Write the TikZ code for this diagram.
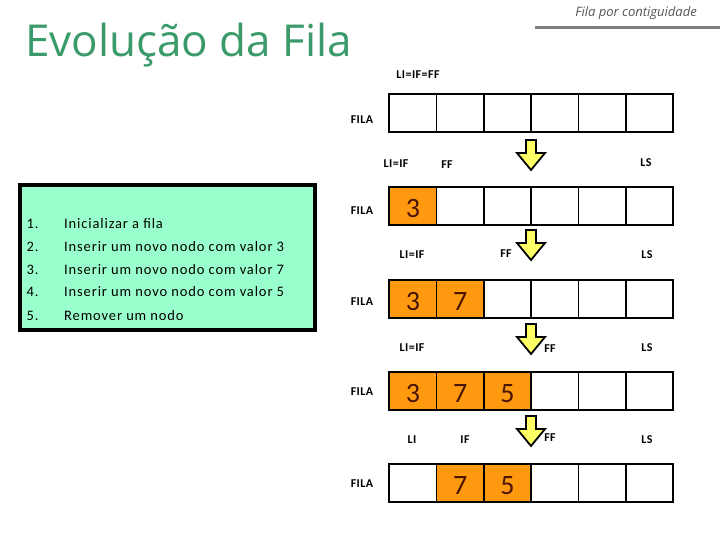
\documentclass[tikz,border=0pt]{standalone}
\usepackage{fontspec}
\setmainfont{Carlito}
\newfontfamily\titlefont{Open Sans}
\newfontfamily\listfont[LetterSpace=6]{Carlito}
\newfontfamily\labfont[LetterSpace=4]{Carlito}
\definecolor{titlegreen}{HTML}{3A9A6A}
\definecolor{subgray}{HTML}{555555}
\definecolor{rulegray}{HTML}{808080}
\definecolor{cellorange}{HTML}{FF9A10}
\definecolor{digitcol}{HTML}{4A1405}
\definecolor{boxmint}{HTML}{99FFCC}
\definecolor{arrowyellow}{HTML}{FFFF66}
\tikzset{
  cell/.style={draw=black, line width=1.8pt, minimum width=47.33pt, minimum height=38pt,
    inner sep=0pt, anchor=north west, fill=white},
  full/.style={cell, fill=cellorange, text=digitcol, font=\fontsize{28}{30}\selectfont, text height=24pt},
  lab/.style={font=\labfont\bfseries\fontsize{12}{14}\selectfont, inner sep=0pt},
  listtxt/.style={font=\listfont\fontsize{14.5}{16}\selectfont, anchor=base west, inner sep=0pt},
  downarr/.pic={\draw[line width=1.8pt, fill=arrowyellow, line join=miter]
    (-5,0) -- (5,0) -- (5,13) -- (14,13) -- (0,30) -- (-14,13) -- (-5,13) -- cycle;}
}
\begin{document}
\begin{tikzpicture}[x=1pt,y=-1pt]
\useasboundingbox (0,0) rectangle (720,540);
% title and header
\node[font=\titlefont\fontsize{44}{50}\selectfont, text=titlegreen, anchor=base west, inner sep=0pt] (title) at (25,57) {Evolução da Fila};
\node[font=\titlefont\itshape\fontsize{13}{15}\selectfont, text=subgray, anchor=base east, inner sep=0pt] (sub) at (697,17) {Fila por contiguidade};
\coordinate (ruleA) at (535,28);
\coordinate (ruleB) at (720,28);
\draw[rulegray, line width=3pt] (ruleA) -- (ruleB);
% instruction box
\node[draw=black, line width=4pt, fill=boxmint, anchor=north west, minimum width=295pt, minimum height=145pt, inner sep=0pt] (box) at (18,183) {};
\foreach \i/\t/\yb in {1/Inicializar a fila/228.5, 2/Inserir um novo nodo com valor 3/251.7, 3/Inserir um novo nodo com valor 7/274.3, 4/Inserir um novo nodo com valor 5/296.7, 5/Remover um nodo/320}{
  \node[listtxt] (num\i) at (26.5,\yb) {\i.};
  \node[listtxt] (item\i) at (64,\yb) {\t};
}
% rows of cells
\foreach \c in {1,...,6}{ \node[cell] (r1c\c) at ({388.3+(\c-1)*47.33},93.3) {}; }
\node[full] (r2c1) at (388.3,186) {3};
\foreach \c in {2,...,6}{ \node[cell] (r2c\c) at ({388.3+(\c-1)*47.33},186) {}; }
\node[full] (r3c1) at (388.3,279) {3};
\node[full] (r3c2) at (435.63,279) {7};
\foreach \c in {3,...,6}{ \node[cell] (r3c\c) at ({388.3+(\c-1)*47.33},279) {}; }
\node[full] (r4c1) at (388.3,370.7) {3};
\node[full] (r4c2) at (435.63,370.7) {7};
\node[full] (r4c3) at (482.96,370.7) {5};
\foreach \c in {4,...,6}{ \node[cell] (r4c\c) at ({388.3+(\c-1)*47.33},370.7) {}; }
\node[cell] (r5c1) at (388.3,462.7) {};
\node[full] (r5c2) at (435.63,462.7) {7};
\node[full] (r5c3) at (482.96,462.7) {5};
\foreach \c in {4,...,6}{ \node[cell] (r5c\c) at ({388.3+(\c-1)*47.33},462.7) {}; }
% FILA labels
\foreach \r/\y in {1/120, 2/211, 3/302, 4/392, 5/484}{ \node[lab] (fila\r) at (362,\y) {FILA}; }
% pointer labels
\node[lab] (p0) at (418,75) {LI=IF=FF};
\node[lab] (p1a) at (396,164) {LI=IF};
\node[lab] (p1b) at (447,165) {FF};
\node[lab] (p1c) at (646,163) {LS};
\node[lab] (p2a) at (412,255) {LI=IF};
\node[lab] (p2b) at (506,254) {FF};
\node[lab] (p2c) at (647,255) {LS};
\node[lab] (p3a) at (412,348) {LI=IF};
\node[lab] (p3b) at (550,349) {FF};
\node[lab] (p3c) at (647,348) {LS};
\node[lab] (p4a) at (412,440) {LI};
\node[lab] (p4b) at (465,440) {IF};
\node[lab] (p4c) at (550,438) {FF};
\node[lab] (p4d) at (647,440) {LS};
% transition arrows
\pic at (531,140) {downarr};
\pic at (531,230) {downarr};
\pic at (531,324) {downarr};
\pic at (531,416) {downarr};
\end{tikzpicture}
\end{document}
